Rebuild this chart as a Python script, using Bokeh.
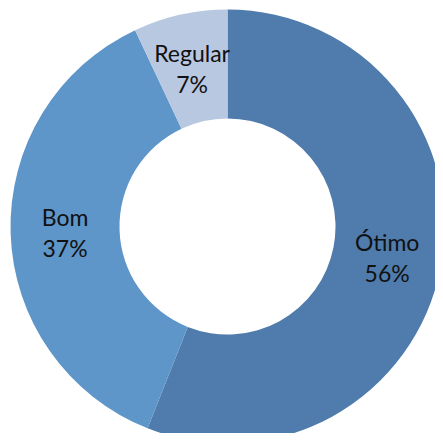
import math
from bokeh.plotting import figure
from bokeh.models import Range1d, ColumnDataSource
from bokeh.core.properties import value
from bokeh.embed import file_html
from bokeh.resources import INLINE

categories = ["Ótimo", "Bom", "Regular"]
values = [56, 37, 7]
pct_labels = ["56%", "37%", "7%"]
colors = ["#4F7CAC", "#5F96C9", "#B9C8E1"]

R_OUT = 217
R_IN = 108

total = float(sum(values))
starts, ends, lx, ly = [], [], [], []
cum = 0.0
for v in values:
    a0 = math.pi / 2 - 2 * math.pi * cum / total
    cum += v
    a1 = math.pi / 2 - 2 * math.pi * cum / total
    starts.append(a0)
    ends.append(a1)
    mid = (a0 + a1) / 2
    rm = (R_OUT + R_IN) / 2
    lx.append(rm * math.cos(mid))
    ly.append(rm * math.sin(mid))

src = ColumnDataSource(dict(start=starts, end=ends, color=colors,
                            x=lx, y=ly, cat=categories, pct=pct_labels))

W, H = 435, 433
cx, cy = 227, 226
p = figure(width=W, height=H, output_backend="svg", toolbar_location=None,
           x_range=Range1d(-cx, W - cx), y_range=Range1d(-(H - cy), cy),
           min_border=0)
p.axis.visible = False
p.grid.visible = False
p.outline_line_color = None
p.background_fill_color = "white"

p.annular_wedge(x=0, y=0, inner_radius=R_IN, outer_radius=R_OUT,
                start_angle="start", end_angle="end", direction="clock",
                fill_color="color", line_color=None, source=src)

p.text(x="x", y="y", text="cat", source=src, text_align="center",
       text_baseline="middle", y_offset=-15, text_font=value("Lato"),
       text_font_size="23px", text_color="#111111")
p.text(x="x", y="y", text="pct", source=src, text_align="center",
       text_baseline="middle", y_offset=16, text_font=value("Lato"),
       text_font_size="23px", text_color="#111111")

open("out.html", "w").write(file_html(p, INLINE))
